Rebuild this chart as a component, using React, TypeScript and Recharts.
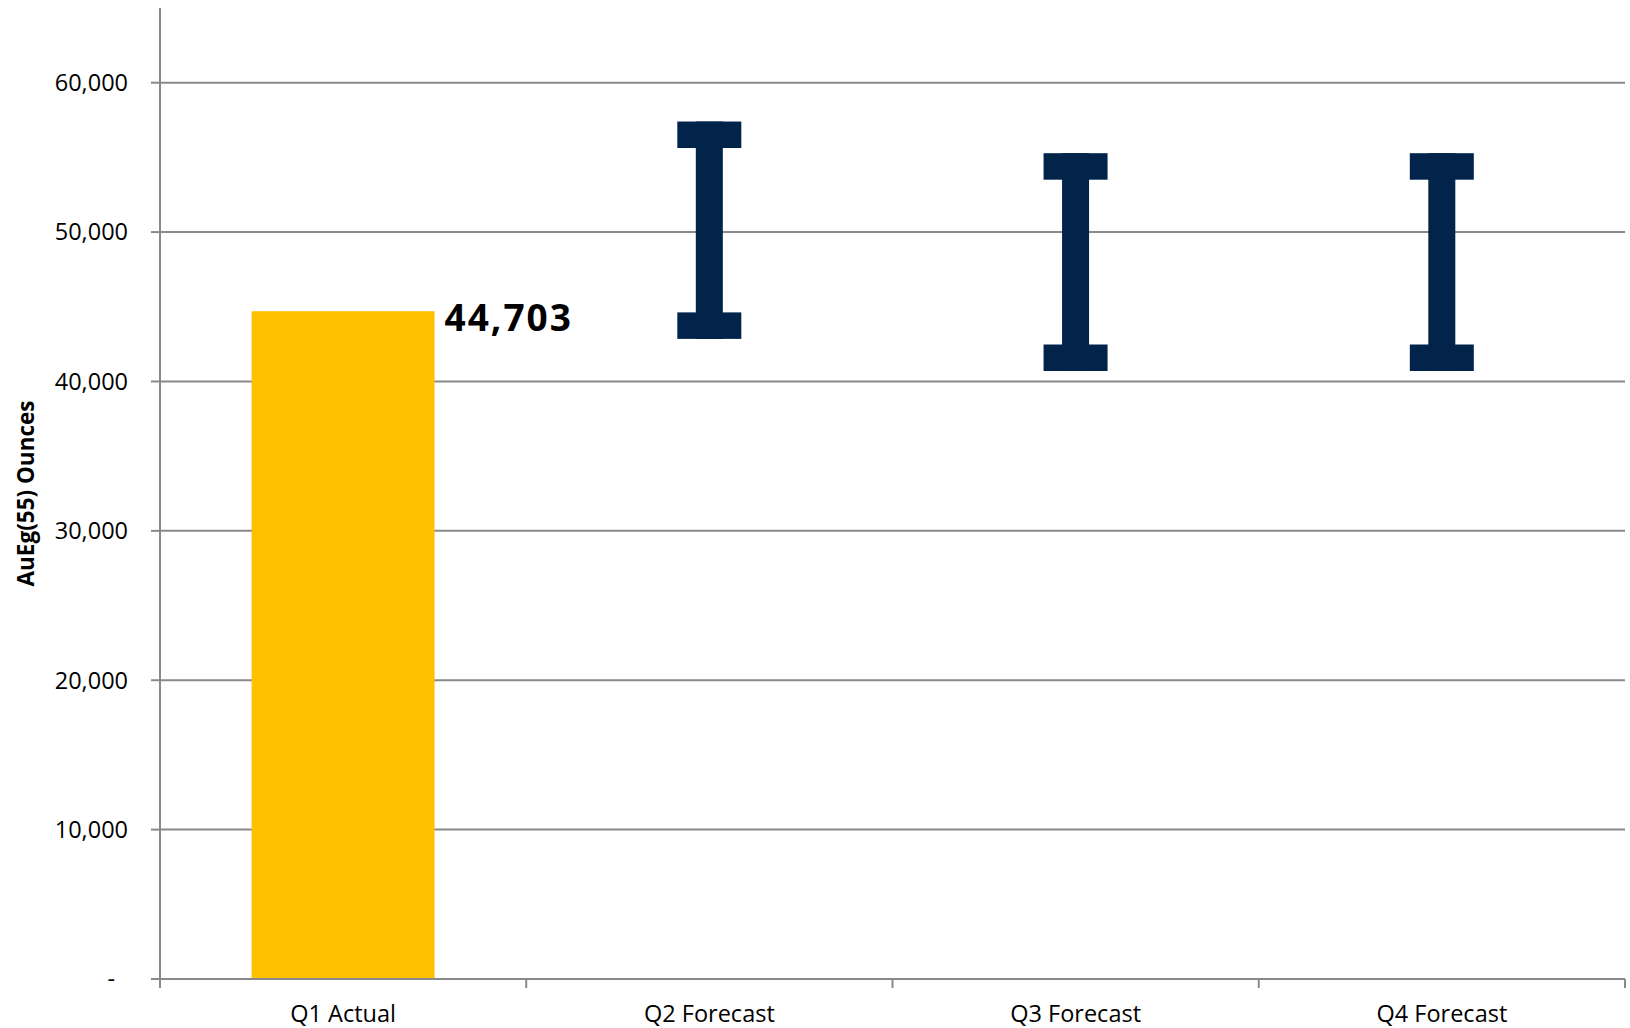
import React from 'react';
import { ComposedChart, Bar, XAxis, YAxis, CartesianGrid, LabelList } from 'recharts';

const CATEGORIES = ['Q1 Actual', 'Q2 Forecast', 'Q3 Forecast', 'Q4 Forecast'];
const ACTUAL: (number | null)[] = [44703, null, null, null];
const FORECAST_LOW: (number | null)[] = [null, 42850, 40700, 40700];
const FORECAST_HIGH: (number | null)[] = [null, 57400, 55280, 55280];
const Y_TICKS = [0, 10000, 20000, 30000, 40000, 50000, 60000];
const Y_TITLE = 'AuEg(55) Ounces';

const data = CATEGORIES.map((name, i) => ({
  name,
  actual: ACTUAL[i],
  low: FORECAST_LOW[i],
  high: FORECAST_HIGH[i],
  range: ACTUAL[i] != null ? [0, ACTUAL[i]] : [FORECAST_LOW[i], FORECAST_HIGH[i]],
}));

const FONT = '"Open Sans", sans-serif';
const GRID = '#898989';
const NAVY = '#02234A';
const GOLD = '#FFC000';
const TICK_SIZE = 9;
const TICK_MARGIN = 17;

const BarShape = (props: any) => {
  const { x, y, width, height, payload } = props;
  if (payload.actual != null) {
    return <rect x={x} y={y} width={width} height={height} fill={GOLD} />;
  }
  const cx = x + width / 2;
  const capW = 64;
  const capH = 26.5;
  const stemW = 27;
  return (
    <g fill={NAVY}>
      <rect x={cx - capW / 2} y={y} width={capW} height={capH} />
      <rect x={cx - stemW / 2} y={y} width={stemW} height={height} />
      <rect x={cx - capW / 2} y={y + height - capH} width={capW} height={capH} />
    </g>
  );
};

const ValueLabel = (props: any) => {
  const { x, y, width, index } = props;
  const v = ACTUAL[index];
  if (v == null) return null;
  return (
    <text
      x={x + width + 10}
      y={y + 19.5}
      fontFamily={FONT}
      fontWeight={700}
      fontSize={37}
      letterSpacing={2}
      fill="#000"
    >
      {v.toLocaleString('en-US')}
    </text>
  );
};

const YTick = (props: any) => {
  const { x, y, payload } = props;
  const v = payload.value as number;
  const label = v === 0 ? '-' : v.toLocaleString('en-US');
  return (
    <text
      x={v === 0 ? x - 13 : x}
      y={y}
      dy="0.355em"
      textAnchor="end"
      fontFamily={FONT}
      fontSize={23.5}
      fill="#000"
    >
      {label}
    </text>
  );
};

const XTick = (props: any) => {
  const { x, y, payload, index } = props;
  const half = payload.offset ?? 183;
  const axisY = y - TICK_SIZE - TICK_MARGIN;
  return (
    <g>
      <line x1={x - half} x2={x - half} y1={axisY} y2={axisY + TICK_SIZE} stroke={GRID} strokeWidth={2} />
      {index === CATEGORIES.length - 1 && (
        <line x1={x + half} x2={x + half} y1={axisY} y2={axisY + TICK_SIZE} stroke={GRID} strokeWidth={2} />
      )}
      <text x={x} y={y} dy="0.71em" textAnchor="middle" fontFamily={FONT} fontSize={23.5} fill="#000">
        {payload.value}
      </text>
    </g>
  );
};

const YTitle = (props: any) => {
  const vb = props.viewBox || { x: 0, y: 8, width: 160, height: 971 };
  const cx = vb.x + 33.5;
  const cy = vb.y + vb.height / 2;
  return (
    <text
      x={cx}
      y={cy}
      transform={`rotate(-90, ${cx}, ${cy})`}
      textAnchor="middle"
      fontFamily={FONT}
      fontWeight={700}
      fontSize={22.5}
      fill="#000"
    >
      {Y_TITLE}
    </text>
  );
};

export default function App() {
  return (
    <div style={{ position: 'absolute', left: 0, top: 0, width: 1630, height: 1028, background: '#fff' }}>
      <ComposedChart
        width={1630}
        height={1028}
        data={data}
        margin={{ top: 8, right: 5, bottom: 9, left: 0 }}
        barCategoryGap="25%"
      >
        <CartesianGrid vertical={false} stroke={GRID} strokeWidth={2} horizontalValues={Y_TICKS} />
        <XAxis
          dataKey="name"
          height={40}
          interval={0}
          stroke={GRID}
          strokeWidth={2}
          tickLine={false}
          tickSize={TICK_SIZE}
          tickMargin={TICK_MARGIN}
          tick={<XTick />}
        />
        <YAxis
          width={160}
          domain={[0, 65000]}
          ticks={Y_TICKS}
          stroke={GRID}
          strokeWidth={2}
          tickSize={TICK_SIZE}
          tickMargin={23}
          tick={<YTick />}
          label={{ content: <YTitle /> }}
        />
        <Bar dataKey="range" shape={<BarShape />} isAnimationActive={false}>
          <LabelList dataKey="range" content={<ValueLabel />} />
        </Bar>
      </ComposedChart>
    </div>
  );
}
